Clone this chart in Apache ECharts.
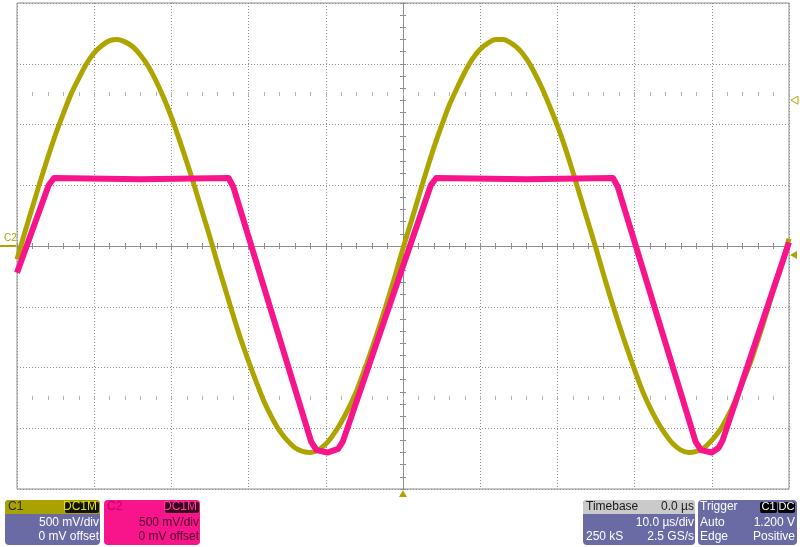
<!DOCTYPE html>
<html><head><meta charset="utf-8">
<script src="https://cdn.jsdelivr.net/npm/echarts@6/dist/echarts.min.js"></script>
<style>html,body{margin:0;padding:0;background:#fff}#c{width:800px;height:547px}</style>
</head><body><div id="c"></div>
<script>
// ---- data (time in µs, voltage in V) ----
const c1Time = [-50,-49,-48,-47,-46,-45,-44,-43,-42,-41,-40,-39,-38,-37,-36,-35,-34,-33,-32,-31,-30,-29,-28,-27,-26,-25,-24,-23,-22,-21,-20,-19,-18,-17,-16,-15,-14,-13,-12,-11,-10,-9,-8,-7,-6,-5,-4,-3,-2,-1,0,1,2,3,4,5,6,7,8,9,10,11,12,13,14,15,16,17,18,19,20,21,22,23,24,25,26,27,28,29,30,31,32,33,34,35,36,37,38,39,40,41,42,43,44,45,46,47,48,49,50];
const c1Volt = [-0.11,0.11,0.32,0.53,0.73,0.92,1.09,1.25,1.38,1.50,1.59,1.65,1.69,1.70,1.68,1.64,1.57,1.48,1.36,1.22,1.06,0.88,0.69,0.49,0.28,0.07,-0.15,-0.36,-0.57,-0.77,-0.95,-1.12,-1.28,-1.41,-1.52,-1.60,-1.66,-1.69,-1.70,-1.68,-1.63,-1.55,-1.45,-1.33,-1.19,-1.02,-0.84,-0.65,-0.45,-0.24,-0.02,0.19,0.40,0.61,0.81,0.99,1.16,1.30,1.43,1.54,1.62,1.67,1.70,1.70,1.67,1.62,1.54,1.43,1.30,1.15,0.99,0.81,0.61,0.40,0.19,-0.02,-0.24,-0.45,-0.65,-0.84,-1.02,-1.19,-1.33,-1.45,-1.55,-1.63,-1.68,-1.70,-1.69,-1.66,-1.60,-1.52,-1.41,-1.28,-1.12,-0.96,-0.77,-0.57,-0.36,-0.17,0.06];
const c2Time = [-50,-45.9,-45.2,-34,-22.6,-22.0,-11.9,-11.2,-9.8,-8.4,-7.8,3.6,4.3,16,27.2,27.8,37.9,38.6,40.0,40.9,41.4,50];
const c2Volt = [-0.22,0.50,0.56,0.55,0.56,0.49,-1.61,-1.68,-1.70,-1.67,-1.61,0.50,0.56,0.55,0.56,0.49,-1.61,-1.68,-1.70,-1.66,-1.60,0.03];
const timeMin = -50, timeMax = 50, timeDiv = 10;
const voltMin = -2, voltMax = 2, voltDiv = 0.5;
const triggerLevel = 1.2, triggerTime = 0;
const c1Panel = ['C1', 'DC1M', '500 mV/div', '0 mV offset'];
const c2Panel = ['C2', 'DC1M', '500 mV/div', '0 mV offset'];
const tbPanel = ['Timebase', '0.0 µs', '10.0 µs/div', '250 kS', '2.5 GS/s'];
const trPanel = ['Trigger', 'C1', 'DC', 'Auto', '1.200 V', 'Edge', 'Positive'];

// ---- style ----
const YEL = '#ada400', PINK = '#f8148a', SLATE = '#6a6aa4', GRIDC = '#8e8e8e';
const FONT = '12px "Liberation Sans", Arial, sans-serif';
const G = {left: 17, top: 3, width: 772, height: 486};

const chart = echarts.init(document.getElementById('c'), null, {renderer: 'canvas'});

function xAx(grid, pos, onIdx, opts) {
  return Object.assign({
    gridIndex: grid, type: 'value', min: timeMin, max: timeMax, interval: timeDiv, position: pos,
    axisLine: {show: false, onZero: true, onZeroAxisIndex: onIdx, lineStyle: {color: GRIDC, width: 1}},
    axisTick: {show: true, length: 3, lineStyle: {color: GRIDC}},
    minorTick: {show: true, splitNumber: 5, length: 3, lineStyle: {color: GRIDC}},
    axisLabel: {show: false}, splitLine: {show: false}
  }, opts || {});
}
function yAx(grid, pos, onIdx, mn, mx, opts) {
  return Object.assign({
    gridIndex: grid, type: 'value', min: mn, max: mx, interval: voltDiv, position: pos,
    axisLine: {show: false, onZero: true, onZeroAxisIndex: onIdx, lineStyle: {color: GRIDC, width: 1}},
    axisTick: {show: true, length: 3, lineStyle: {color: GRIDC}},
    minorTick: {show: true, splitNumber: 5, length: 3, lineStyle: {color: GRIDC}},
    axisLabel: {show: false}, splitLine: {show: false}
  }, opts || {});
}
const dotted = {show: true, lineStyle: {type: [1, 2], color: GRIDC, width: 1}};
const rowTick = {show: true, length: 2, lineStyle: {color: '#b0b0b0'}};

chart.setOption({
  animation: false,
  backgroundColor: '#ffffff',
  grid: [
    Object.assign({show: true, borderColor: GRIDC, borderWidth: 1, backgroundColor: 'rgba(0,0,0,0)'}, G),
    Object.assign({show: false}, G),
    Object.assign({show: false}, G)
  ],
  xAxis: [
    xAx(0, 'bottom', 0, {splitLine: dotted, axisLine: {show: true, onZero: true, onZeroAxisIndex: 0, lineStyle: {color: GRIDC, width: 1}}}),
    xAx(0, 'top', 0),
    xAx(1, 'bottom', 2, {axisTick: rowTick, minorTick: Object.assign({splitNumber: 5}, rowTick)}),
    xAx(1, 'top', 2, {axisTick: rowTick, minorTick: Object.assign({splitNumber: 5}, rowTick)}),
    xAx(2, 'bottom', 3, {axisTick: rowTick, minorTick: Object.assign({splitNumber: 5}, rowTick)}),
    xAx(2, 'top', 3, {axisTick: rowTick, minorTick: Object.assign({splitNumber: 5}, rowTick)})
  ],
  yAxis: [
    yAx(0, 'left', 0, voltMin, voltMax, {splitLine: dotted, axisLine: {show: true, onZero: true, onZeroAxisIndex: 0, lineStyle: {color: GRIDC, width: 1}}}),
    yAx(0, 'right', 0, voltMin, voltMax),
    {gridIndex: 1, type: 'value', show: false, min: voltMin - 1.25, max: voltMax - 1.25},
    {gridIndex: 2, type: 'value', show: false, min: voltMin + 1.25, max: voltMax + 1.25}
  ],
  series: [
    {type: 'line', name: 'C1', xAxisIndex: 0, yAxisIndex: 0, data: c1Time.map((t, i) => [t, c1Volt[i]]),
     smooth: 0.3, symbol: 'none', lineStyle: {color: YEL, width: 5, join: 'round'}, z: 3},
    {type: 'line', name: 'C2', xAxisIndex: 0, yAxisIndex: 0, data: c2Time.map((t, i) => [t, c2Volt[i]]),
     smooth: false, symbol: 'none', lineStyle: {color: PINK, width: 6, join: 'round'}, z: 4}
  ]
});

// ---- decorations: markers and info panels ----
const g = [];
function rect(x, y, w, h, fill, r) { g.push({type: 'rect', shape: {x, y, width: w, height: h, r: r || 0}, style: {fill}, z: 10}); }
function txt(s, x, y, fill, align, font) {
  g.push({type: 'text', x, y, style: {text: s, fill, font: font || FONT, align: align || 'left', verticalAlign: 'middle', textAlign: align || 'left', textVerticalAlign: 'middle'}, z: 11});
}
const pTrig = chart.convertToPixel({gridIndex: 0}, [triggerTime, triggerLevel]);
const pZero = chart.convertToPixel({gridIndex: 0}, [timeMin, 0]);
const right = G.left + G.width, bottom = G.top + G.height;
// trigger time marker (bottom)
g.push({type: 'polygon', shape: {points: [[pTrig[0] - 4, bottom + 8], [pTrig[0] + 4, bottom + 8], [pTrig[0], bottom + 1]]}, style: {fill: YEL}, z: 10});
// trigger level marker (right)
g.push({type: 'polygon', shape: {points: [[right + 2, pTrig[1]], [right + 9, pTrig[1] - 4], [right + 9, pTrig[1] + 4]]}, style: {fill: '#fff', stroke: YEL, lineWidth: 1}, z: 10});
// channel offset marker (right)
g.push({type: 'polygon', shape: {points: [[right + 1, pZero[1] + 9], [right + 8, pZero[1] + 5], [right + 8, pZero[1] + 13]]}, style: {fill: YEL}, z: 10});
// channel marker (left)
g.push({type: 'line', shape: {x1: 0, y1: pZero[1], x2: G.left - 1, y2: pZero[1]}, style: {stroke: YEL, lineWidth: 2}, z: 10});
txt('C2', 4, pZero[1] - 8, YEL, 'left', '10px "Liberation Sans", Arial, sans-serif');

const PY = 500, PH = 45, HH = 14, R1 = 507, R2 = 523, R3 = 537;
// C1 panel
rect(5, PY, 95, PH, SLATE, 4);
rect(5, PY, 95, HH, '#aaa200', [4, 4, 0, 0]);
txt(c1Panel[0], 8, R1, '#2a2a00');
rect(65, PY + 2, 34, 11, '#111', 2);
txt(c1Panel[1], 97, R1, '#e8de00', 'right');
txt(c1Panel[2], 99, R2, '#fff', 'right');
txt(c1Panel[3], 99, R3, '#fff', 'right');
// C2 panel
rect(104, PY, 96, PH, PINK, 4);
txt(c2Panel[0], 107, R1, '#c4006a');
rect(165, PY + 2, 34, 11, '#3a0020', 2);
txt(c2Panel[1], 197, R1, '#ff3a9a', 'right');
txt(c2Panel[2], 199, R2, '#4a0a2a', 'right');
txt(c2Panel[3], 199, R3, '#4a0a2a', 'right');
// Timebase panel
rect(583, PY, 112, PH, SLATE, 4);
rect(583, PY, 112, HH, '#cacaca', [4, 4, 0, 0]);
txt(tbPanel[0], 586, R1, '#1a1a1a');
txt(tbPanel[1], 694, R1, '#1a1a1a', 'right');
txt(tbPanel[2], 694, R2, '#fff', 'right');
txt(tbPanel[3], 586, R3, '#fff');
txt(tbPanel[4], 694, R3, '#fff', 'right');
// Trigger panel
rect(698, PY, 99, PH, SLATE, 4);
txt(trPanel[0], 700, R1, '#fff');
rect(760, PY + 2, 17, 11, '#000', 2);
rect(778, PY + 2, 17, 11, '#000', 2);
txt(trPanel[1], 768.5, R1, '#fff', 'center', '11px "Liberation Sans", Arial, sans-serif');
txt(trPanel[2], 786.5, R1, '#fff', 'center', '11px "Liberation Sans", Arial, sans-serif');
txt(trPanel[3], 700, R2, '#fff');
txt(trPanel[4], 795, R2, '#fff', 'right');
txt(trPanel[5], 700, R3, '#fff');
txt(trPanel[6], 795, R3, '#fff', 'right');

chart.setOption({graphic: g});
</script></body></html>
